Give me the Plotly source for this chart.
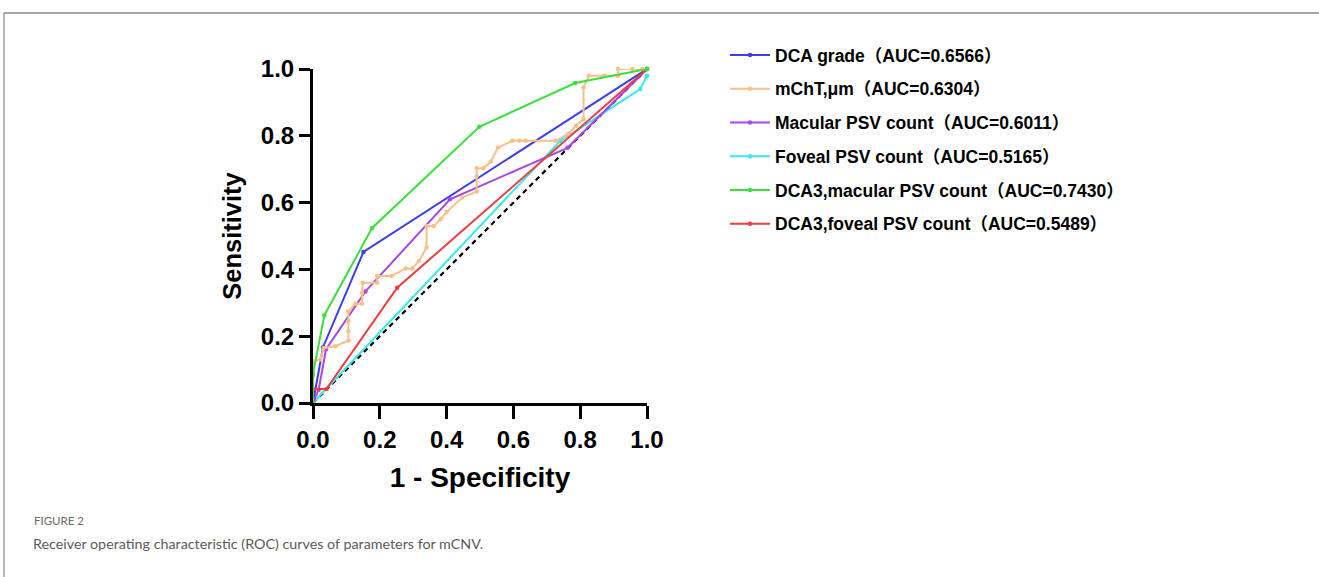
import plotly.graph_objects as go

# ---- data ----
dca_x = [0, 0.03, 0.151, 1]
dca_y = [0, 0.167, 0.452, 1]

mcht_x = [0, 0, 0, 0, 0.022, 0.032, 0.067, 0.106, 0.106, 0.106, 0.106, 0.127, 0.147, 0.147, 0.149,
          0.192, 0.192, 0.235, 0.277, 0.297, 0.317, 0.34, 0.34, 0.362, 0.382, 0.40, 0.447, 0.49,
          0.49, 0.49, 0.51, 0.532, 0.554, 0.597, 0.617, 0.637, 0.727, 0.762, 0.787, 0.81, 0.81,
          0.826, 0.872, 0.913, 0.913, 0.956, 0.986, 1]
mcht_y = [0, 0.042, 0.083, 0.125, 0.13, 0.165, 0.17, 0.187, 0.215, 0.245, 0.275, 0.297, 0.297, 0.33,
          0.36, 0.36, 0.38, 0.38, 0.403, 0.403, 0.425, 0.465, 0.53, 0.53, 0.55, 0.572, 0.615, 0.633,
          0.68, 0.703, 0.703, 0.722, 0.765, 0.785, 0.785, 0.785, 0.785, 0.805, 0.83, 0.85, 0.945,
          0.98, 0.98, 0.98, 1.0, 1.0, 1.0, 1]

mac_x = [0, 0.017, 0.039, 0.157, 0.41, 0.762, 1]
mac_y = [0, 0.04, 0.161, 0.334, 0.61, 0.764, 1]

fov_x = [0, 0.741, 0.98, 1]
fov_y = [0, 0.785, 0.94, 0.98]

dcam_x = [0, 0, 0.034, 0.177, 0.498, 0.785, 1]
dcam_y = [0, 0.087, 0.263, 0.524, 0.827, 0.958, 1]

dcaf_x = [0, 0, 0.04, 0.252, 1]
dcaf_y = [0, 0.042, 0.042, 0.345, 1]

ref_x = [0, 1]
ref_y = [0, 1]

names = ["DCA grade（AUC=0.6566）", "mChT,μm（AUC=0.6304）", "Macular PSV count（AUC=0.6011）",
         "Foveal PSV count（AUC=0.5165）", "DCA3,macular PSV count（AUC=0.7430）",
         "DCA3,foveal PSV count（AUC=0.5489）"]
colors = ["#3c3cf0", "#f8c089", "#a846e8", "#38e8f0", "#3ae03a", "#f03c3c"]

xs = [dca_x, mcht_x, mac_x, fov_x, dcam_x, dcaf_x]
ys = [dca_y, mcht_y, mac_y, fov_y, dcam_y, dcaf_y]

FONT = "Arial, Liberation Sans, Noto Sans CJK SC, sans-serif"

fig = go.Figure()
fig.add_trace(go.Scatter(x=ref_x, y=ref_y, mode="lines", showlegend=False,
                         line=dict(color="black", width=2.2, dash="5px,4px"), hoverinfo="skip"))
order = [3, 0, 2, 1, 5, 4]
for i in order:
    fig.add_trace(go.Scatter(x=xs[i], y=ys[i], mode="lines+markers", name=names[i],
                             legendgroup=str(i), legendrank=i + 1,
                             line=dict(color=colors[i], width=2),
                             marker=dict(color=colors[i], size=4.5),
                             cliponaxis=False))

# frame lines and caption
L, R, T, B = 313, 647, 69, 403
W = R - L
def px(x):
    return (x - L) / W
def py(y):
    return (B - y) / (B - T)

fig.add_shape(type="line", xref="paper", yref="paper", x0=px(4), x1=px(1325), y0=py(13), y1=py(13),
              line=dict(color="#8a8a8a", width=1.5))
fig.add_shape(type="line", xref="paper", yref="paper", x0=px(4), x1=px(4), y0=py(13), y1=py(590),
              line=dict(color="#8a8a8a", width=1.2))

fig.add_annotation(text="FIGURE 2", xref="paper", yref="paper", x=px(32), y=py(520),
                   xanchor="left", yanchor="middle", showarrow=False,
                   font=dict(family="Lato, Open Sans, sans-serif", size=11.5, color="#6a6a6a"))
fig.add_annotation(text="Receiver operating characteristic (ROC) curves of parameters for mCNV.",
                   xref="paper", yref="paper", x=px(31), y=py(543),
                   xanchor="left", yanchor="middle", showarrow=False,
                   font=dict(family="Lato, Open Sans, sans-serif", size=14.3, color="#5a5a5a"))

fig.update_layout(
    width=1319, height=577, autosize=False,
    margin=dict(l=L, r=1319 - R, t=T, b=577 - B, pad=0),
    paper_bgcolor="white", plot_bgcolor="white",
    font=dict(family=FONT, color="black"),
    legend=dict(x=px(725), y=py(37), xanchor="left", yanchor="top",
                font=dict(family=FONT, size=17.5, color="black", weight="bold"),
                tracegroupgap=8, itemwidth=40, bgcolor="rgba(0,0,0,0)",
                traceorder="grouped"),
    showlegend=True,
)
tickfont = dict(family=FONT, size=24, color="black", weight="bold")
fig.update_xaxes(range=[0, 1], tickvals=[0, 0.2, 0.4, 0.6, 0.8, 1.0],
                 ticktext=["0.0", "0.2", "0.4", "0.6", "0.8", "1.0"],
                 showgrid=False, zeroline=False, showline=True, linecolor="black", linewidth=3,
                 ticks="outside", ticklen=13, tickwidth=3, tickcolor="black", tickfont=tickfont,
                 title=dict(text="1 - Specificity", standoff=16,
                            font=dict(family=FONT, size=28, color="black", weight="bold")))
fig.update_yaxes(range=[0, 1], tickvals=[0, 0.2, 0.4, 0.6, 0.8, 1.0],
                 ticktext=["0.0", "0.2", "0.4", "0.6", "0.8", "1.0"],
                 showgrid=False, zeroline=False, showline=True, linecolor="black", linewidth=3,
                 ticks="outside", ticklen=11, tickwidth=3, tickcolor="black", tickfont=tickfont,
                 title=dict(text="Sensitivity", standoff=12,
                            font=dict(family=FONT, size=25.5, color="black", weight="bold")))

fig.write_html("out.html", config={"displayModeBar": False},
               post_script="document.body.style.margin='0';")
